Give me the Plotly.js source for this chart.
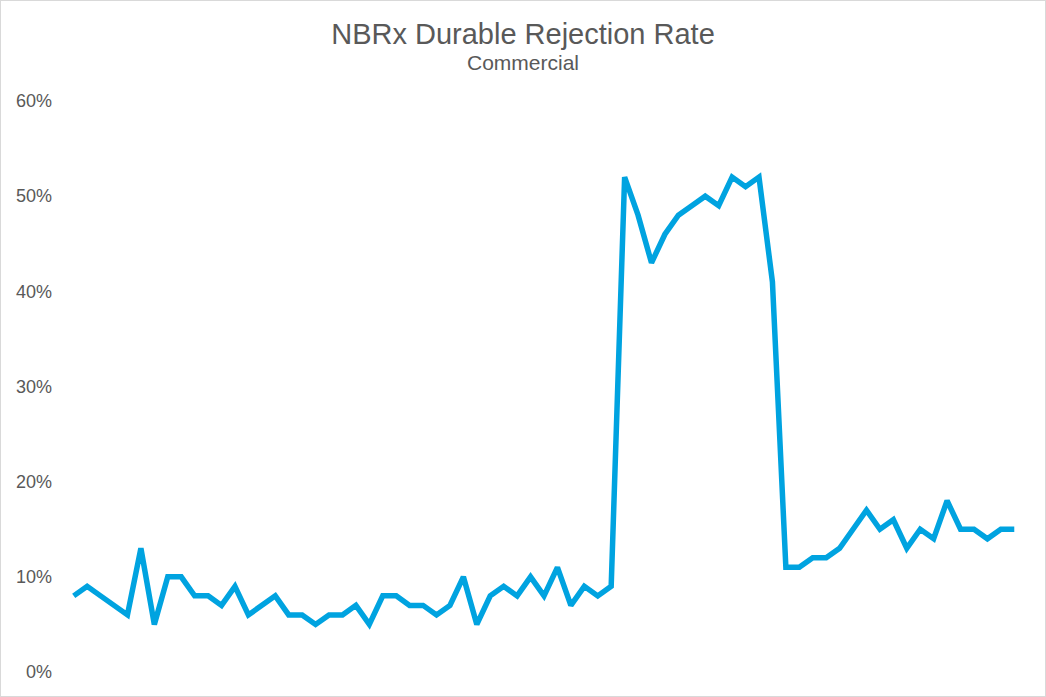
<!DOCTYPE html>
<html>
<head>
<meta charset="utf-8">
<script src="https://cdn.plot.ly/plotly-3.0.1.min.js"></script>
<style>
  body { margin: 0; background: #fff; }
  #wrap { position: relative; width: 1046px; height: 697px; }
  #frame { position: absolute; left: 0; top: 0; width: 1046px; height: 697px;
           box-sizing: border-box; border: 1px solid #d9d9d9; pointer-events: none; }
</style>
</head>
<body>
<div id="wrap">
  <div id="chart" style="width:1046px;height:697px;"></div>
  <div id="frame"></div>
</div>
<script>
// rejection rate per period, in percent
const rates = [
  8, 9, 8, 7, 6, 13, 5, 10, 10, 8, 8, 7, 9, 6, 7, 8, 6, 6, 5, 6, 6, 7,
  5, 8, 8, 7, 7, 6, 7, 10, 5, 8, 9, 8, 10, 8, 11, 7, 9, 8, 9,
  52, 48, 43, 46, 48, 49, 50, 49, 52, 51, 52, 41,
  11, 11, 12, 12, 13, 15, 17, 15, 16, 13, 15, 14, 18, 15, 15, 14, 15, 15
];
const periods = rates.map((v, i) => i);
const yTicks = [0, 10, 20, 30, 40, 50, 60];
const yTickText = yTicks.map(v => v + '%');

const font = 'Liberation Sans, Arial, sans-serif';

// plot area in pixels: left 67, right 1021, top 101, bottom 672
const plotTop = 101, plotBottom = 672;

const data = [{
  type: 'scatter',
  mode: 'lines',
  x: periods,
  y: rates,
  line: { color: '#00a3e0', width: 5.5 },
  hoverinfo: 'y'
}];

const layout = {
  width: 1046,
  height: 697,
  margin: { l: 67, r: 25, t: plotTop, b: 697 - plotBottom },
  paper_bgcolor: '#ffffff',
  plot_bgcolor: '#ffffff',
  showlegend: false,
  title: {
    text: 'NBRx Durable Rejection Rate',
    font: { family: font, size: 29, color: '#595959' },
    x: 0.5,
    xanchor: 'center',
    yref: 'container',
    y: 1 - 34 / 697,
    yanchor: 'middle'
  },
  annotations: [{
    text: 'Commercial',
    xref: 'paper',
    yref: 'paper',
    x: 0.5 - (67 - 25) / 2 / (1046 - 92),
    y: (plotBottom - 63) / (plotBottom - plotTop),
    xanchor: 'center',
    yanchor: 'middle',
    showarrow: false,
    font: { family: font, size: 21, color: '#595959' }
  }],
  xaxis: {
    range: [-0.5, rates.length - 0.5],
    showticklabels: false,
    showgrid: false,
    zeroline: false,
    showline: false,
    ticks: ''
  },
  yaxis: {
    range: [0, 60],
    tickvals: yTicks,
    ticktext: yTickText,
    showgrid: false,
    zeroline: false,
    showline: false,
    ticks: '',
    ticklabelstandoff: 14,
    tickfont: { family: font, size: 18, color: '#595959' }
  }
};

Plotly.newPlot('chart', data, layout, { displayModeBar: false, staticPlot: true });
</script>
</body>
</html>
